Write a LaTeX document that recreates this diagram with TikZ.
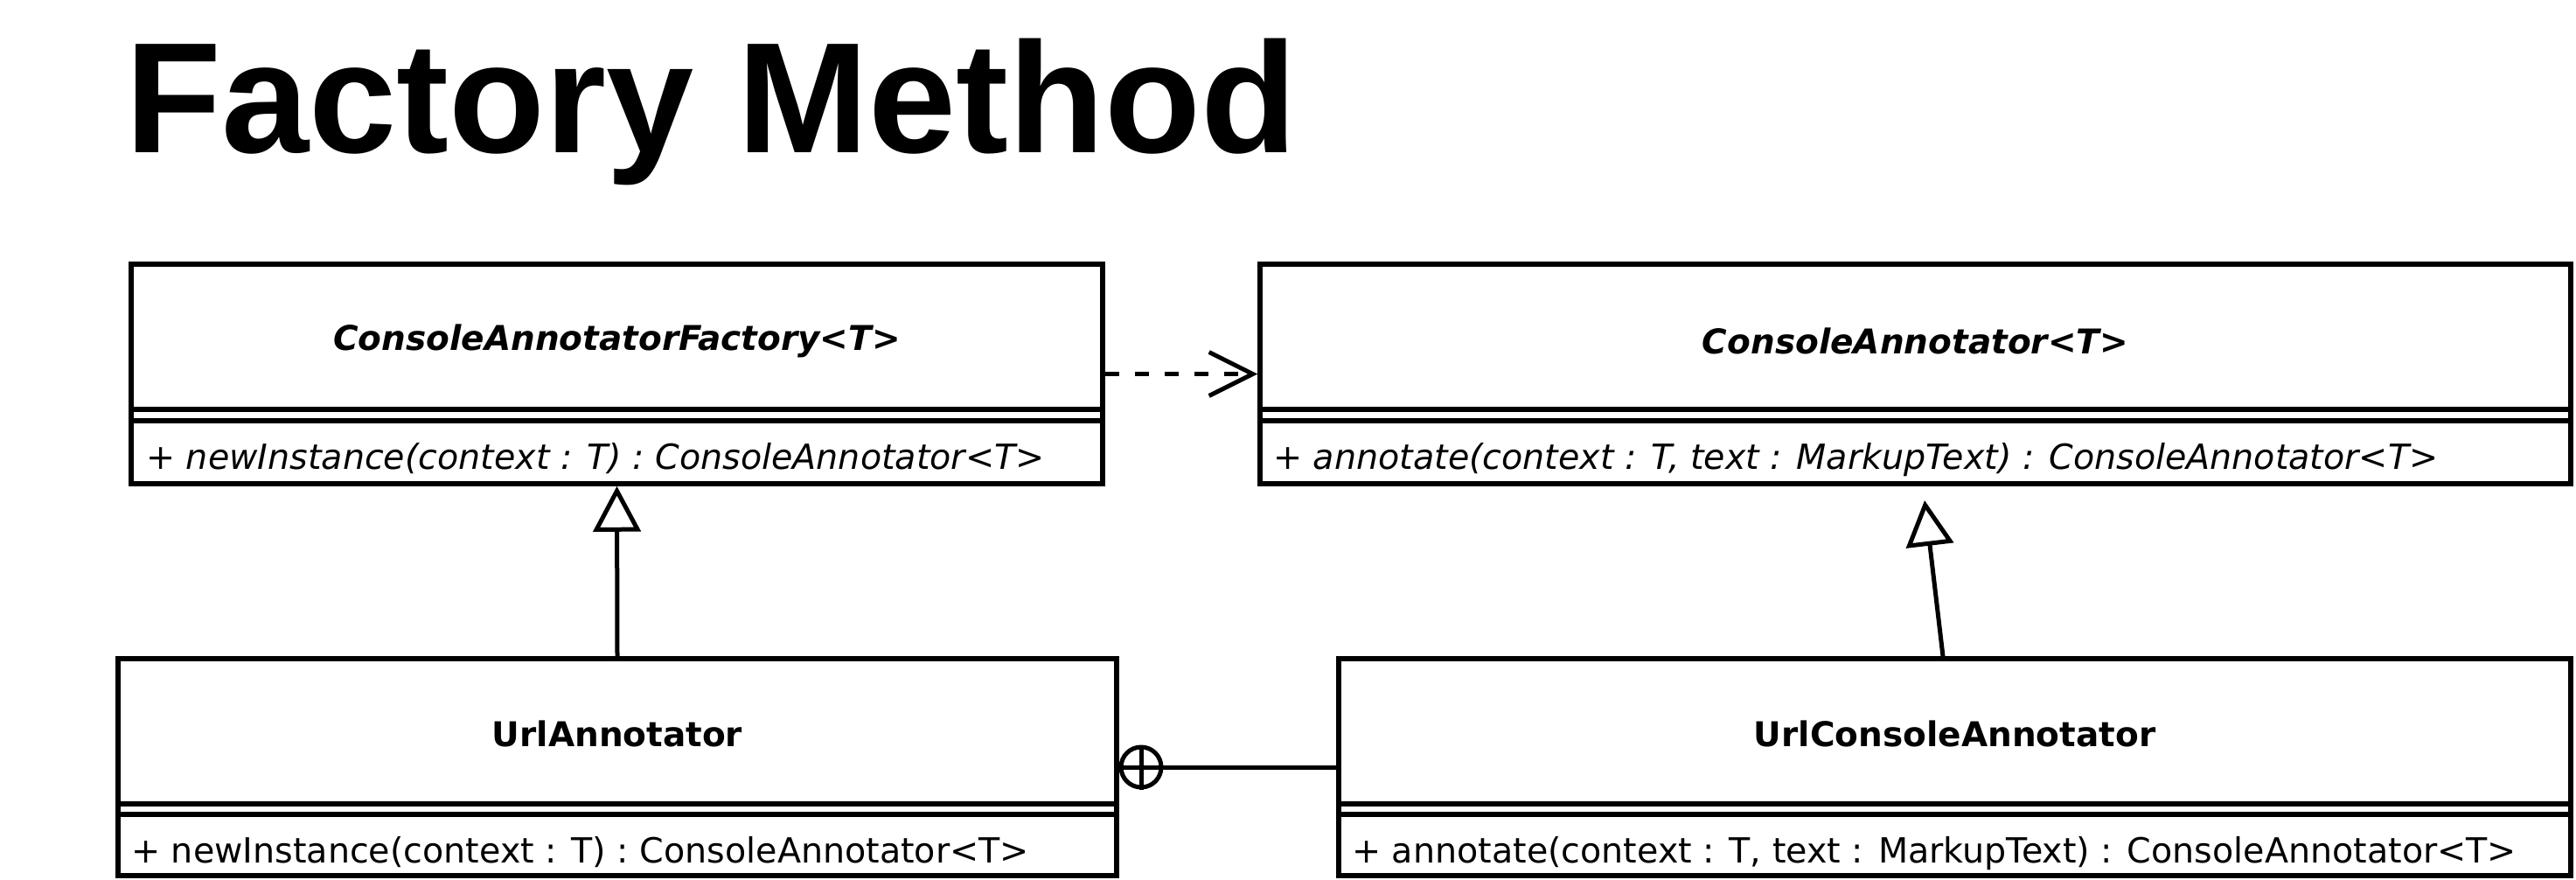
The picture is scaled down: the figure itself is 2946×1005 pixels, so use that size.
\documentclass[tikz,border=0pt]{standalone}
\usepackage{fontspec}
\setmainfont{DejaVu Sans}
\newfontfamily\titlefont{Liberation Sans}
\usetikzlibrary{arrows.meta,calc}
\begin{document}
\begin{tikzpicture}[x=1pt,y=-1pt,
  box/.style={draw, line width=5.5pt, rectangle, inner sep=0pt},
  sepline/.style={line width=5.5pt},
  classname/.style={font=\fontsize{39}{46}\selectfont\bfseries\itshape, inner sep=0pt},
  concname/.style={font=\fontsize{39}{46}\selectfont\bfseries, inner sep=0pt},
  optext/.style={font=\fontsize{39.6}{46}\selectfont, anchor=base west, inner sep=0pt},
  conn/.style={line width=5pt},
  dep/.style={conn, dash pattern=on 16pt off 18pt, -{Straight Barb[length=50pt,width=50pt,line width=5pt]}},
  inh/.style={conn, -{Triangle[open,length=52pt,width=54pt,line width=5pt,fill=white]}}
]
\useasboundingbox (0,0) rectangle (2946,1005);

% title
\node[anchor=base west, inner sep=0pt, font=\titlefont\fontsize{180}{200}\selectfont\bfseries] (title) at (143,174) {Factory Method};

% ConsoleAnnotatorFactory<T>
\node[box, minimum width=1111pt, minimum height=251pt] (f) at (705.5,427.5) {};
\draw[sepline] (150,468) -- (1261,468);
\draw[sepline] (150,481) -- (1261,481);
\node[classname] (fname) at (705.5,390) {ConsoleAnnotatorFactory<T>};
\node[optext] (fop) at (167,536) {+ \itshape newInstance(context : T) : ConsoleAnnotator<T>};

% ConsoleAnnotator<T>
\node[box, minimum width=1499pt, minimum height=251pt] (ca) at (2190.5,427.5) {};
\draw[sepline] (1441,468) -- (2940,468);
\draw[sepline] (1441,481) -- (2940,481);
\node[classname] (caname) at (2190.5,390) {ConsoleAnnotator<T>};
\node[optext] (caop) at (1456,536) {+ \itshape annotate(context : T, text : MarkupText) : ConsoleAnnotator<T>};

% UrlAnnotator
\node[box, minimum width=1142pt, minimum height=248pt] (ua) at (706,877) {};
\draw[sepline] (135,919) -- (1277,919);
\draw[sepline] (135,931) -- (1277,931);
\node[concname] (uaname) at (706,839) {UrlAnnotator};
\node[optext] (uaop) at (150,986) {+ newInstance(context : T) : ConsoleAnnotator<T>};

% UrlConsoleAnnotator
\node[box, minimum width=1409pt, minimum height=248pt] (uca) at (2235.5,877) {};
\draw[sepline] (1531,919) -- (2940,919);
\draw[sepline] (1531,931) -- (2940,931);
\node[concname] (ucaname) at (2235.5,839) {UrlConsoleAnnotator};
\node[optext] (ucaop) at (1546,986) {+ annotate(context : T, text : MarkupText) : ConsoleAnnotator<T>};

% dependency
\draw[dep] (f.east) -- (ca.west);

% inheritance
\draw[inh] (ua.north) -- (f.south);
\coordinate (inhtip) at (2201,572);
\draw[inh] ($(uca.north)+(-13.5,0)$) -- (inhtip);

% nesting
\node[draw, circle, line width=5pt, minimum size=46pt, inner sep=0pt] (nest) at (1305,877) {};
\draw[conn] (nest.north) -- (nest.south);
\draw[conn] (nest.west) -- (nest.east);
\draw[conn] (nest.east) -- (uca.west);
\end{tikzpicture}
\end{document}
